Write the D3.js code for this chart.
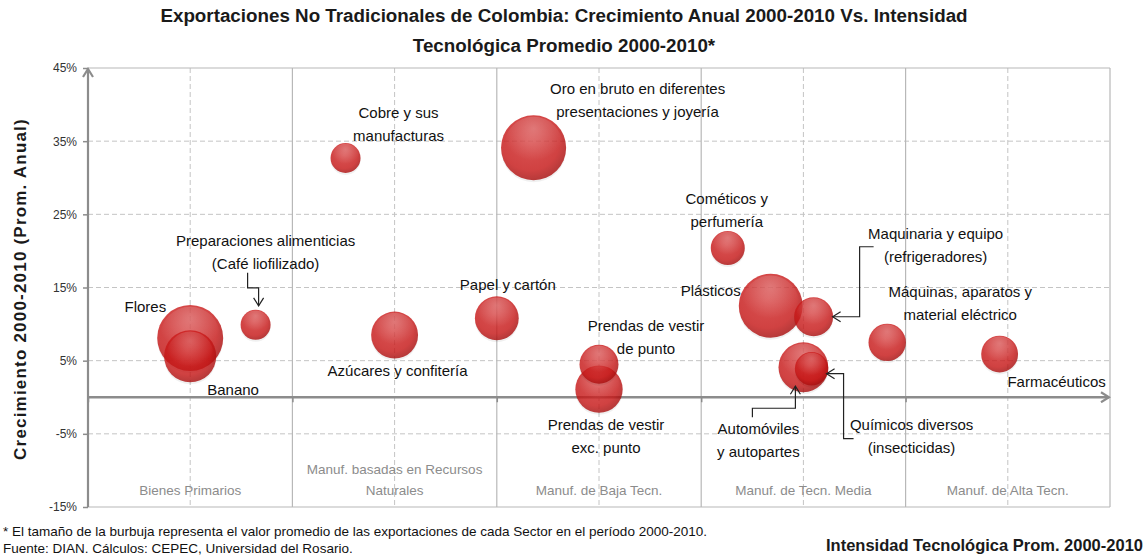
<!DOCTYPE html>
<html>
<head>
<meta charset="utf-8">
<script src="https://cdnjs.cloudflare.com/ajax/libs/d3/7.8.5/d3.min.js"></script>
<style>
  body { margin: 0; background: #fff; }
  svg { display: block; font-family: "Liberation Sans", Arial, sans-serif; }
</style>
</head>
<body>
<div id="chart"></div>
<script>
// categorias de intensidad tecnologica (eje x)
const categorias = [
  ["Bienes Primarios"],
  ["Manuf. basadas en Recursos", "Naturales"],
  ["Manuf. de Baja Tecn."],
  ["Manuf. de Tecn. Media"],
  ["Manuf. de Alta Tecn."]
];
const yTicks = [-15, -5, 5, 15, 25, 35, 45];

// sectores: intensidad (x), crecimiento % (y), exportaciones prom. (tamaño)
const sectores = ["Flores", "Banano", "Preparaciones", "Cobre", "Oro", "Azucares", "Papel",
  "PrendasExc", "PrendasPunto", "Cosmeticos", "Plasticos", "Maquinaria", "Automoviles",
  "Quimicos", "Maquinas", "Farmaceuticos"];
const intensidad = [0.50, 0.50, 0.82, 1.26, 2.18, 1.50, 2.00, 2.50, 2.50, 3.13, 3.34, 3.55, 3.50, 3.54, 3.91, 4.46];
const crecimiento = [8.1, 5.6, 9.9, 32.7, 34.1, 8.5, 10.8, 1.1, 4.5, 20.4, 12.5, 11.0, 4.1, 3.9, 7.5, 5.9];
const exportaciones = [1090, 680, 225, 225, 1060, 550, 480, 560, 380, 290, 1020, 380, 620, 280, 350, 340];

// etiquetas: lineas y desplazamiento respecto al centro de la burbuja
const etiquetas = {
  Flores: { lines: ["Flores"], dx: -24, dy: -26, anchor: "end" },
  Banano: { lines: ["Banano"], dx: 17, dy: 39, anchor: "start" },
  Preparaciones: { lines: ["Preparaciones alimenticias", "(Café liofilizado)"], dx: 10, dy: -79 },
  Cobre: { lines: ["Cobre y sus", "manufacturas"], dx: 53, dy: -40 },
  Oro: { lines: ["Oro en bruto en diferentes", "presentaciones y joyería"], dx: 104, dy: -54 },
  Azucares: { lines: ["Azúcares y confitería"], dx: 3, dy: 41 },
  Papel: { lines: ["Papel y cartón"], dx: 11, dy: -28 },
  PrendasPunto: { lines: ["Prendas de vestir", "de punto"], dx: 47, dy: -33 },
  PrendasExc: { lines: ["Prendas de vestir", "exc. punto"], dx: 7, dy: 41 },
  Cosmeticos: { lines: ["Cométicos y", "perfumería"], dx: -1, dy: -44 },
  Plasticos: { lines: ["Plásticos"], dx: -30, dy: -10, anchor: "end" },
  Maquinaria: { lines: ["Maquinaria y equipo", "(refrigeradores)"], dx: 122, dy: -78 },
  Maquinas: { lines: ["Máquinas, aparatos y", "material eléctrico"], dx: 73, dy: -45 },
  Farmaceuticos: { lines: ["Farmacéuticos"], dx: 57, dy: 33 },
  Automoviles: { lines: ["Automóviles", "y autopartes"], dx: -45, dy: 67 },
  Quimicos: { lines: ["Químicos diversos", "(insecticidas)"], dx: 100, dy: 61 }
};
// lineas guia con flecha (relativas al centro de la burbuja)
const guias = {
  Preparaciones: [[-8, -52], [-8, -37], [3, -37], [3, -19]],
  Maquinaria: [[60, -70], [46, -70], [46, 0], [19, 0]],
  Automoviles: [[-51, 50], [-51, 41], [-8, 41], [-8, 19]],
  Quimicos: [[42, 70], [32, 70], [32, 5], [15, 5]]
};

const W = 1147, H = 558;
const svg = d3.select("#chart").append("svg").attr("width", W).attr("height", H);
svg.append("rect").attr("width", W).attr("height", H).attr("fill", "#fff");

const x = d3.scaleLinear().domain([0, categorias.length]).range([88, 1110]);
const y = d3.scaleLinear().domain([-15, 45]).range([507, 68]);
const r = d3.scaleSqrt().domain([0, d3.max(exportaciones)]).range([0, 33]);

const defs = svg.append("defs");
const grad = defs.append("radialGradient").attr("id", "bola")
  .attr("cx", "45%").attr("cy", "40%").attr("r", "60%");
grad.append("stop").attr("offset", "0%").attr("stop-color", "#d42a2a");
grad.append("stop").attr("offset", "75%").attr("stop-color", "#c81616");
grad.append("stop").attr("offset", "100%").attr("stop-color", "#a80c0c");
const hl = defs.append("radialGradient").attr("id", "brillo")
  .attr("cx", "50%").attr("cy", "20%").attr("r", "55%");
hl.append("stop").attr("offset", "0%").attr("stop-color", "#fff").attr("stop-opacity", 0.25);
hl.append("stop").attr("offset", "100%").attr("stop-color", "#fff").attr("stop-opacity", 0);

function marker(id, color, w) {
  defs.append("marker").attr("id", id)
    .attr("viewBox", "-10 -6 12 12").attr("refX", 0).attr("refY", 0)
    .attr("markerUnits", "userSpaceOnUse").attr("markerWidth", 12).attr("markerHeight", 12)
    .attr("orient", "auto")
    .append("path").attr("d", "M-8,-5 L0,0 L-8,5")
    .attr("fill", "none").attr("stroke", color).attr("stroke-width", w);
}
marker("flechaEje", "#8c8c8c", 2.2);
marker("flecha", "#222", 1.2);

// rejilla
const grid = svg.append("g");
grid.selectAll(".h").data(yTicks.filter(d => d > -15 && d < 45)).join("line")
  .attr("x1", x(0)).attr("x2", x(5)).attr("y1", d => y(d)).attr("y2", d => y(d))
  .attr("stroke", "#c4c4c4").attr("stroke-dasharray", "5,3");
grid.selectAll(".vd").data(categorias.map((c, i) => i + 0.5)).join("line")
  .attr("x1", d => x(d)).attr("x2", d => x(d)).attr("y1", y(45)).attr("y2", y(-15))
  .attr("stroke", "#c4c4c4").attr("stroke-dasharray", "5,3");
grid.selectAll(".vs").data(d3.range(1, categorias.length + 1)).join("line")
  .attr("x1", d => x(d)).attr("x2", d => x(d)).attr("y1", y(45)).attr("y2", y(-15))
  .attr("stroke", "#b8b8b8").attr("stroke-width", 1.2);
[45, -15].forEach(v => grid.append("line")
  .attr("x1", x(0)).attr("x2", x(5)).attr("y1", y(v)).attr("y2", y(v))
  .attr("stroke", "#b8b8b8").attr("stroke-width", 1.2));

// categorias
svg.append("g").selectAll("text").data(categorias).join("text")
  .attr("x", (d, i) => x(i + 0.5))
  .attr("text-anchor", "middle").attr("font-size", 13.5).attr("fill", "#8c8c8c")
  .each(function (d) {
    const t = d3.select(this);
    d.forEach((l, j) => t.append("tspan").attr("x", t.attr("x"))
      .attr("y", 495 - (d.length - 1 - j) * 21).text(l));
  });

// ejes
const yAxis = svg.append("g").attr("transform", `translate(${x(0)},0)`)
  .call(d3.axisLeft(y).tickValues(yTicks).tickFormat(d => d + "%").tickSize(5).tickPadding(6));
yAxis.select(".domain").remove();
yAxis.selectAll(".tick line").attr("stroke", "#8c8c8c").attr("stroke-width", 1.5);
yAxis.selectAll(".tick text").attr("font-size", 12).attr("fill", "#333")
  .attr("font-family", "Liberation Sans Narrow, Liberation Sans, sans-serif");
svg.append("line").attr("x1", x(0)).attr("x2", x(0)).attr("y1", y(-15)).attr("y2", y(45) + 1)
  .attr("stroke", "#8c8c8c").attr("stroke-width", 2.2).attr("marker-end", "url(#flechaEje)");

const xAxis = svg.append("g").attr("transform", `translate(0,${y(0)})`)
  .call(d3.axisBottom(x).tickValues(d3.range(0, categorias.length)).tickFormat("").tickSize(5));
xAxis.select(".domain").remove();
xAxis.selectAll(".tick line").attr("stroke", "#8c8c8c").attr("stroke-width", 1.5);
svg.append("line").attr("x1", x(0)).attr("x2", x(5) - 1).attr("y1", y(0)).attr("y2", y(0))
  .attr("stroke", "#8c8c8c").attr("stroke-width", 2.5).attr("marker-end", "url(#flechaEje)");

// burbujas
const datos = sectores.map((s, i) => ({
  s, cx: x(intensidad[i]), cy: y(crecimiento[i]), rad: r(exportaciones[i])
}));
const bub = svg.append("g").selectAll("g")
  .data(datos).join("g")
  .attr("transform", d => `translate(${d.cx},${d.cy})`);
bub.append("circle").attr("r", d => d.rad).attr("cy", 2)
  .attr("fill", "#000").attr("opacity", 0.06);
bub.append("circle").attr("r", d => d.rad)
  .attr("fill", "url(#bola)").attr("opacity", 0.8);
bub.append("circle").attr("r", d => d.rad * 0.9).attr("cy", d => -d.rad * 0.05)
  .attr("fill", "url(#brillo)");

// guias
const linea = d3.line();
Object.entries(guias).forEach(([s, pts]) => {
  const d = datos.find(e => e.s === s);
  svg.append("path").attr("d", linea(pts.map(p => [d.cx + p[0], d.cy + p[1]])))
    .attr("fill", "none").attr("stroke", "#222").attr("stroke-width", 1.2)
    .attr("marker-end", "url(#flecha)");
});

// etiquetas
const lab = svg.append("g").attr("font-size", 15).attr("fill", "#111");
datos.forEach(d => {
  const e = etiquetas[d.s];
  const t = lab.append("text").attr("text-anchor", e.anchor || "middle");
  e.lines.forEach((l, j) => t.append("tspan")
    .attr("x", d.cx + e.dx).attr("y", d.cy + e.dy + j * 23).text(l));
});

// titulos
const tit = svg.append("text").attr("text-anchor", "middle").attr("font-size", 18.8)
  .attr("font-weight", "bold").attr("fill", "#1a1a1a");
tit.append("tspan").attr("x", 564).attr("y", 22)
  .text("Exportaciones No Tradicionales de Colombia: Crecimiento Anual 2000-2010 Vs. Intensidad");
tit.append("tspan").attr("x", 564).attr("y", 52).text("Tecnológica Promedio 2000-2010*");

svg.append("text").attr("transform", "translate(26,289) rotate(-90)")
  .attr("text-anchor", "middle").attr("font-size", 17).attr("font-weight", "bold")
  .attr("letter-spacing", 1.2)
  .attr("fill", "#1a1a1a").text("Crecimiento 2000-2010 (Prom. Anual)");

svg.append("text").attr("x", 1143).attr("y", 551).attr("text-anchor", "end")
  .attr("font-size", 16.5).attr("font-weight", "bold").attr("fill", "#1a1a1a")
  .text("Intensidad Tecnológica Prom. 2000-2010");

const nota = svg.append("text").attr("font-size", 13.5).attr("fill", "#111");
nota.append("tspan").attr("x", 3).attr("y", 536)
  .text("* El tamaño de la burbuja representa el valor promedio de las exportaciones de cada Sector en el período 2000-2010.");
nota.append("tspan").attr("x", 3).attr("y", 553)
  .text("Fuente: DIAN. Cálculos: CEPEC, Universidad del Rosario.");
</script>
</body>
</html>
